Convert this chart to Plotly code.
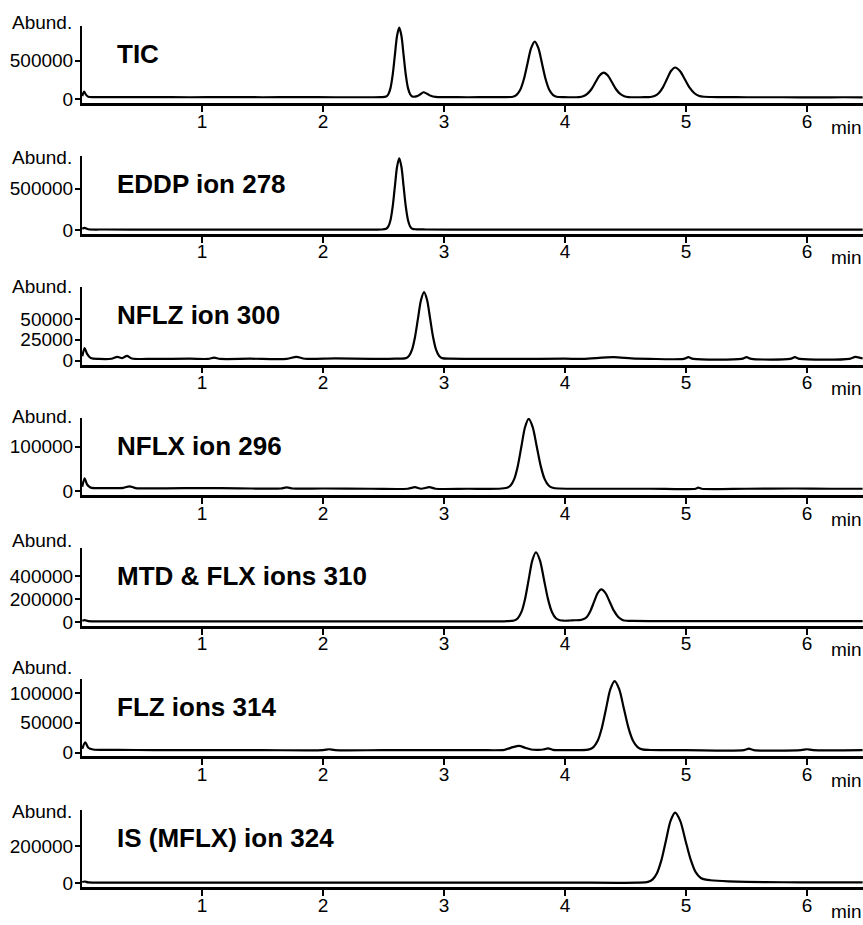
import plotly.graph_objects as go

# ---------------- data (retention time in min, abundance) ----------------
tic_t = [0.01, 0.025, 0.04, 0.06, 0.1, 0.3, 0.6, 0.9, 1.2, 1.5, 1.8, 2.1, 2.35, 2.48,
         2.522, 2.54, 2.558, 2.576, 2.594, 2.612, 2.63, 2.648, 2.666, 2.684, 2.702, 2.72, 2.738,
         2.76, 2.785, 2.805, 2.83, 2.86, 2.89, 2.93, 3.0, 3.2, 3.4, 3.5,
         3.57, 3.60, 3.63, 3.66, 3.69, 3.72, 3.75, 3.78, 3.81, 3.84, 3.87, 3.90, 3.93,
         3.99, 4.04,
         4.116, 4.15, 4.184, 4.218, 4.252, 4.286, 4.32, 4.354, 4.388, 4.422, 4.456, 4.49, 4.524,
         4.6, 4.66,
         4.706, 4.74, 4.774, 4.808, 4.842, 4.876, 4.91, 4.95, 4.99, 5.03, 5.07, 5.11, 5.15, 5.2,
         5.3, 5.5, 5.8, 6.1, 6.3, 6.46]
tic_v = [40000, 100000, 60000, 32000, 28000, 27000, 28000, 26000, 27000, 26000, 27000, 26000, 26000, 27000,
         35000, 64500, 146800, 317200, 570900, 819300, 925000, 819300, 570900, 317200, 146800, 64500, 35000,
         33000, 45000, 65000, 90000, 70000, 45000, 30000, 27000, 26000, 27000, 28000,
         33000, 56600, 122400, 258800, 461700, 660400, 745000, 660400, 461700, 258800, 122400, 56600, 33000,
         27000, 26000,
         28600, 39000, 68300, 128900, 219100, 307400, 345000, 307400, 219100, 128900, 68300, 39000, 28600,
         26000, 26500,
         29300, 41900, 77100, 150000, 258500, 364800, 410000, 364800, 258500, 150000, 77100, 41900, 32000, 29000,
         27000, 26000, 25500, 25000, 25500, 25000]

eddp_t = [0.01, 0.03, 0.06, 0.2, 0.6, 1.0, 1.5, 2.0, 2.4, 2.48,
          2.522, 2.54, 2.558, 2.576, 2.594, 2.612, 2.63, 2.648, 2.666, 2.684, 2.702, 2.72, 2.738,
          2.77, 2.85, 3.2, 3.8, 4.5, 5.2, 6.0, 6.46]
eddp_v = [15000, 25000, 8000, 5000, 4000, 4000, 4000, 4000, 4000, 4500,
          13500, 41800, 120400, 283200, 525600, 763000, 864000, 763000, 525600, 283200, 120400, 41800, 13500,
          7000, 5000, 4000, 4000, 4000, 4000, 4000, 4000]

nflz_t = [0.01, 0.03, 0.05, 0.08, 0.15, 0.25, 0.30, 0.34, 0.38, 0.42, 0.6, 0.9, 1.05, 1.1, 1.15,
          1.4, 1.7, 1.78, 1.85, 2.1, 2.4, 2.6,
          2.685, 2.71, 2.735, 2.76, 2.785, 2.81, 2.835, 2.86, 2.885, 2.91, 2.935, 2.96, 2.985,
          3.05, 3.3, 3.6, 4.0, 4.15, 4.4, 4.55, 4.7, 4.98, 5.02, 5.06, 5.46, 5.5, 5.54,
          5.86, 5.9, 5.94, 6.35, 6.4, 6.46]
nflz_v = [5000, 15000, 8000, 3000, 2000, 2200, 4500, 3000, 5500, 2500, 2000, 2200, 2000, 3500, 2000,
          2200, 2000, 4500, 2200, 2500, 2000, 2200,
          2900, 5500, 12800, 28000, 50500, 72600, 82000, 72600, 50500, 28000, 12800, 5500, 2900,
          2200, 2000, 2000, 2200, 2000, 4000, 2500, 2000, 2000, 4000, 2000, 2000, 4000, 2000,
          2000, 4000, 2000, 2000, 4500, 2500]

nflx_t = [0.01, 0.03, 0.05, 0.08, 0.2, 0.35, 0.4, 0.45, 0.7, 1.0, 1.3, 1.65, 1.7, 1.75, 2.0, 2.4, 2.7,
          2.76, 2.81, 2.88, 2.93, 3.2, 3.45,
          3.52, 3.55, 3.58, 3.61, 3.64, 3.67, 3.70, 3.733, 3.766, 3.799, 3.832, 3.865, 3.898,
          3.95, 4.3, 4.7, 5.08, 5.1, 5.13, 5.5, 5.9, 6.2, 6.46]
nflx_v = [10000, 29000, 15000, 8000, 7000, 7500, 11000, 7000, 6500, 7000, 6500, 6000, 8500, 6000, 6000, 5500, 5500,
          9000, 5500, 9000, 5500, 5500, 5500,
          7700, 12800, 27100, 56700, 100600, 143700, 162000, 143700, 100600, 56700, 27100, 12800, 7700,
          6000, 5500, 5500, 5500, 8000, 5500, 5500, 6000, 5500, 5500]

mtd_t = [0.01, 0.03, 0.06, 0.3, 0.8, 1.5, 2.2, 2.9, 3.5,
         3.58, 3.61, 3.64, 3.67, 3.70, 3.73, 3.76, 3.793, 3.826, 3.859, 3.892, 3.925, 3.958, 3.99, 4.04,
         4.08, 4.12, 4.15, 4.18, 4.21, 4.24, 4.27, 4.30, 4.335, 4.37, 4.405, 4.44, 4.475, 4.51, 4.56,
         4.8, 5.2, 5.8, 6.46]
mtd_v = [10000, 15000, 6000, 5000, 5000, 5000, 5000, 5000, 5000,
         11700, 31600, 86900, 201400, 371900, 538900, 610000, 538900, 371900, 201400, 86900, 31600, 14000, 10000, 12000,
         14000, 15000, 22000, 42900, 95900, 174800, 252100, 285000, 252100, 174800, 95900, 42900, 17300, 10000, 8000,
         7000, 7000, 6500, 6500]

flz_t = [0.01, 0.035, 0.06, 0.1, 0.3, 0.6, 1.0, 1.5, 2.0, 2.05, 2.1, 2.5, 3.0, 3.3, 3.5, 3.57, 3.62, 3.67, 3.72,
         3.78, 3.82, 3.86, 3.9, 4.0, 4.12,
         4.20, 4.235, 4.27, 4.305, 4.34, 4.375, 4.41, 4.448, 4.486, 4.524, 4.562, 4.60, 4.638,
         4.7, 5.0, 5.48, 5.52, 5.56, 5.95, 6.0, 6.05, 6.46]
flz_v = [6000, 17000, 8000, 5000, 4500, 4000, 4000, 4000, 4000, 5500, 4000, 4000, 4000, 4000, 4500, 9000, 11000, 8000, 5000,
         4500, 5000, 7000, 4500, 4000, 4000,
         5300, 9100, 19700, 41700, 74400, 106400, 120000, 106400, 74400, 41700, 19700, 9100, 5300,
         4200, 4000, 4000, 6500, 4000, 4000, 5500, 4000, 4000]

is_t = [0.01, 0.03, 0.06, 0.3, 1.0, 2.0, 3.0, 4.0, 4.6,
        4.685, 4.7225, 4.76, 4.7975, 4.835, 4.8725, 4.91, 4.9525, 4.995, 5.0375, 5.08, 5.1225, 5.165, 5.2,
        5.35, 5.5, 5.8, 6.1, 6.46]
is_v = [6000, 9000, 4000, 3000, 3000, 3000, 3000, 3000, 3000,
        7200, 19700, 54600, 126700, 234100, 339200, 384000, 339200, 234100, 131000, 60000, 28000, 19000, 16000,
        10000, 7000, 5000, 4500, 4000]

titles = ["TIC", "EDDP ion 278", "NFLZ ion 300", "NFLX ion 296",
          "MTD &amp; FLX ions 310", "FLZ ions 314", "IS (MFLX) ion 324"]
series_t = [tic_t, eddp_t, nflz_t, nflx_t, mtd_t, flz_t, is_t]
series_v = [tic_v, eddp_v, nflz_v, nflx_v, mtd_v, flz_v, is_v]
y_ticks = [[0, 500000], [0, 500000], [0, 25000, 50000], [0, 100000],
           [0, 200000, 400000], [0, 50000, 100000], [0, 200000]]
x_ticks = [1, 2, 3, 4, 5, 6]

# ---------------- layout geometry ----------------
W, H = 863, 925
ML = 82
units_per_px = [12821, 12000, 1190, 2222, 8696, 1667, 5405]
abund_shift = [3, -1, 1, 1, 8, 12, -2]
FONT = "Liberation Sans, Arial, Helvetica, sans-serif"

fig = go.Figure()
layout = dict(width=W, height=H, margin=dict(l=ML, r=0, t=0, b=0, pad=0),
              plot_bgcolor="white", paper_bgcolor="white", showlegend=False,
              font=dict(family=FONT, size=19, color="black"))
annotations = []
for i in range(7):
    n = "" if i == 0 else str(i + 1)
    y0 = 100 + 131.65 * i
    top_px, bot_px = y0 - 74, y0 + 4
    dom = [1 - bot_px / H, 1 - top_px / H]
    s = units_per_px[i]
    fig.add_trace(go.Scatter(x=series_t[i], y=series_v[i], mode="lines",
                             line=dict(color="black", width=2.2, shape="spline", smoothing=0.8),
                             xaxis="x" + n, yaxis="y" + n, hoverinfo="skip"))
    layout["xaxis" + n] = dict(domain=[0, 1], anchor="y" + n, range=[0.008, 6.463],
                               tickvals=x_ticks, ticktext=[str(v) for v in x_ticks],
                               showgrid=False, zeroline=False, showline=True, linecolor="black",
                               linewidth=2.5, ticks="outside", ticklen=6, tickwidth=1.5,
                               tickcolor="black", ticklabelstandoff=-7,
                               tickfont=dict(size=19, family=FONT))
    layout["yaxis" + n] = dict(domain=dom, anchor="x" + n, range=[-4 * s, 74 * s],
                               tickvals=y_ticks[i], ticktext=[str(v) for v in y_ticks[i]],
                               showgrid=False, zeroline=False, showline=True, linecolor="black",
                               linewidth=2, ticks="outside", ticklen=5, tickwidth=1.5,
                               tickcolor="black", ticklabelstandoff=-2,
                               tickfont=dict(size=19, family=FONT))
    annotations.append(dict(text="<b>" + titles[i] + "</b>", xref="paper", yref="y" + n + " domain",
                            x=(115 - ML) / (W - ML), y=50 / 78, xanchor="left", yanchor="middle",
                            showarrow=False, font=dict(size=26, family=FONT, color="black")))
    annotations.append(dict(text="Abund.", xref="paper", yref="y" + n + " domain",
                            x=0, y=1, xanchor="right", yanchor="middle", xshift=-8,
                            yshift=abund_shift[i], showarrow=False,
                            font=dict(size=19, family=FONT, color="black")))
    annotations.append(dict(text="min", xref="paper", yref="y" + n + " domain",
                            x=(846 - ML) / (W - ML), y=0, xanchor="center", yanchor="middle",
                            yshift=-24, showarrow=False,
                            font=dict(size=19, family=FONT, color="black")))
layout["annotations"] = annotations
fig.update_layout(**layout)
fig.write_html("out.html")
